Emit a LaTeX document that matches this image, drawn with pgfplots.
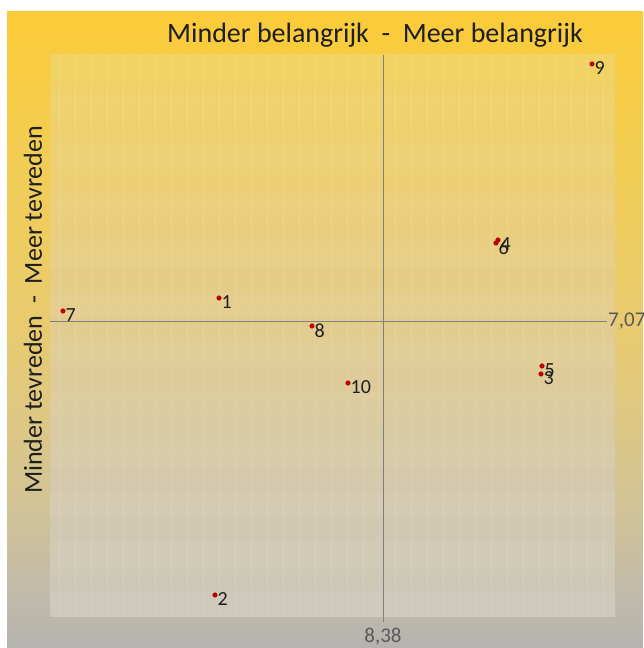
\documentclass[border=0pt]{standalone}
\usepackage{pgfplots}
\pgfplotsset{compat=1.18}
\usepackage{fontspec}
\setmainfont{Carlito}
\definecolor{ptred}{RGB}{192,0,0}
\definecolor{axgray}{RGB}{128,128,128}
\definecolor{lblgray}{RGB}{89,89,89}
\definecolor{txt}{RGB}{30,30,30}
\definecolor{o1}{RGB}{251,203,56}
\definecolor{o2}{RGB}{243,205,80}
\definecolor{o3}{RGB}{232,203,112}
\definecolor{o4}{RGB}{212,196,148}
\definecolor{o5}{RGB}{192,186,170}
\definecolor{o6}{RGB}{181,179,176}
\definecolor{i1}{RGB}{242,210,98}
\definecolor{i2}{RGB}{235,207,120}
\definecolor{i3}{RGB}{225,204,145}
\definecolor{i4}{RGB}{212,201,172}
\definecolor{i5}{RGB}{203,199,186}
\pgfdeclareverticalshading{outerbg}{100bp}{color(0bp)=(o6); color(25bp)=(o6); color(29bp)=(o5); color(37bp)=(o4); color(50bp)=(o3); color(65bp)=(o2); color(75bp)=(o1); color(100bp)=(o1)}
\pgfdeclareverticalshading{innerbg}{100bp}{color(0bp)=(i5); color(25bp)=(i5); color(37bp)=(i4); color(50bp)=(i3); color(62bp)=(i2); color(75bp)=(i1); color(100bp)=(i1)}
\pgfplotstableread{
x y lab
7.97 7.1275 1
7.96 6.385 2
8.775 6.9375 3
8.6675 7.2725 4
8.7775 6.9575 5
8.6625 7.265 6
7.58 7.095 7
8.2025 7.0575 8
8.9025 7.7125 9
8.2925 6.915 10
}\pts
\begin{document}
\begin{tikzpicture}
\useasboundingbox (0pt,0pt) rectangle (643pt,648pt);
\fill[white] (0pt,0pt) rectangle (643pt,648pt);
\shade[shading=outerbg] (7pt,0pt) rectangle (643pt,636pt);
\shade[shading=innerbg] (50pt,31pt) rectangle (615pt,593pt);
\foreach \k in {0,...,34}{
  \pgfmathsetmacro\xa{58+16*\k}
  \pgfmathsetmacro\xb{60+16*\k}
  \fill[white,opacity=0.07] (\xa pt,31pt) rectangle (\xb pt,593pt);
}
\foreach \k in {0,2,...,21}{
  \pgfmathsetmacro\ya{31+25*\k}
  \pgfmathsetmacro\yb{56+25*\k}
  \fill[white,opacity=0.04] (50pt,\ya pt) rectangle (615pt,\yb pt);
}
\node[font=\fontsize{28}{28}\selectfont,text=txt] at (375pt,613pt) {Minder belangrijk \ - \ Meer belangrijk};
\node[font=\fontsize{26}{26}\selectfont,text=txt,rotate=90] at (33pt,338pt) {Minder tevreden \ - \ Meer tevreden};
\node[text=lblgray, font=\fontsize{21}{21}\selectfont] at (383pt,11pt) {8,38};
\begin{axis}[
  at={(50pt,31pt)}, anchor=south west,
  scale only axis, width=565pt, height=562pt,
  xmin=7.5475, xmax=8.96, ymin=6.33, ymax=7.735,
  axis lines=none, clip=false,
  point meta=explicit symbolic,
  nodes near coords,
  every node near coord/.append style={anchor=west, inner sep=1pt, xshift=1.5pt, yshift=-4.5pt,
     font=\fontsize{20}{20}\selectfont, text=txt},
]
\draw[axgray, line width=0.8pt] (axis cs:8.38,7.735) -- (axis cs:8.38,6.3175);
\draw[axgray, line width=0.8pt] (axis cs:7.5475,7.07) -- (axis cs:8.94,7.07);
\node[text=lblgray, font=\fontsize{21}{21}\selectfont, anchor=west, inner sep=1pt] at (axis cs:8.94,7.07) {7,07};
\addplot[only marks, mark=*, mark size=2.3pt, mark options={fill=ptred, draw=ptred}] table[x=x, y=y, meta=lab] {\pts};
\end{axis}
\end{tikzpicture}
\end{document}
